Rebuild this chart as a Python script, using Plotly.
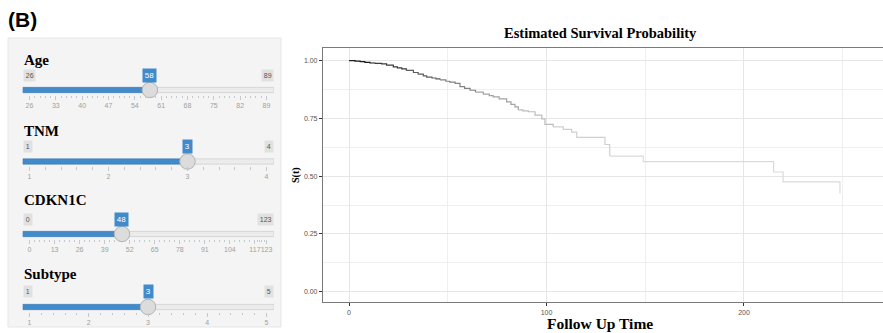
import plotly.graph_objects as go

# ---------------- data ----------------
# Kaplan-Meier style estimated survival curve
follow_time = [0, 3, 5.6, 8, 10.6, 13, 16.5, 19, 22.4, 24.5, 26.7, 29, 32.6, 35, 37.6, 39.3,
               42, 44, 46, 49, 51, 53.7, 56.2, 58.5, 61.3, 64, 68, 71, 73, 76, 79.8, 82, 84,
               85.7, 88, 90.8, 94.2, 97.6, 99.2, 103.4, 108.5, 112.7, 115.3, 129.6, 132, 149,
               215, 219.8, 248.6]
surv_prob = [1.000, 0.998, 0.996, 0.993, 0.990, 0.988, 0.986, 0.981, 0.973, 0.969, 0.965, 0.958,
             0.949, 0.942, 0.934, 0.929, 0.925, 0.921, 0.917, 0.911, 0.907, 0.902, 0.888, 0.880,
             0.872, 0.864, 0.855, 0.849, 0.843, 0.835, 0.822, 0.811, 0.800, 0.787, 0.783, 0.779,
             0.764, 0.748, 0.724, 0.713, 0.703, 0.691, 0.668, 0.637, 0.587, 0.563, 0.518, 0.475,
             0.425]
# colour bands of the curve (dark at start, fading to light grey)
band_breaks = [0, 13, 29, 46, 64, 85.7, 103.4, 132, 248.6]
band_colors = ['#1a1a1a', '#3a3a3a', '#5e5e5e', '#828282', '#a2a2a2', '#bdbdbd', '#cfcfcf', '#dadada']

x_ticks = [0, 100, 200]
y_ticks = [0, 0.25, 0.5, 0.75, 1.0]
y_tick_text = ['0.00', '0.25', '0.50', '0.75', '1.00']

# sliders
slider_names = ['Age', 'TNM', 'CDKN1C', 'Subtype']
slider_min = [26, 1, 0, 1]
slider_max = [89, 4, 123, 5]
slider_value = [58, 3, 48, 3]
age_ticks = [26, 33, 40, 47, 54, 61, 68, 75, 82, 89]
tnm_ticks = [1, 2, 3, 4]
cdkn1c_ticks = [0, 13, 26, 39, 52, 65, 78, 91, 104, 117, 123]
subtype_ticks = [1, 2, 3, 4, 5]
slider_ticks = [age_ticks, tnm_ticks, cdkn1c_ticks, subtype_ticks]

# ---------------- layout helpers ----------------
W, H = 883, 333
def fx(px):
    return px / W
def fy(py):
    return 1 - py / H

fig = go.Figure()

# ---- survival curve in colour bands ----
for b in range(len(band_colors)):
    t0, t1 = band_breaks[b], band_breaks[b + 1]
    i0 = follow_time.index(t0)
    i1 = follow_time.index(t1)
    fig.add_trace(go.Scatter(
        x=follow_time[i0:i1 + 1], y=surv_prob[i0:i1 + 1],
        mode='lines', line=dict(shape='hv', color=band_colors[b], width=1.2),
        xaxis='x', yaxis='y', showlegend=False, hoverinfo='skip'))

SERIF = 'Liberation Serif, Times New Roman, serif'
SANS = 'Liberation Sans, Arial, sans-serif'

layout = dict(
    width=W, height=H, margin=dict(l=0, r=0, t=0, b=0),
    paper_bgcolor='white', plot_bgcolor='rgba(0,0,0,0)',
    showlegend=False,
    xaxis=dict(domain=[fx(323), 1], range=[-13.2, 270.4], anchor='y',
               tickvals=x_ticks, ticktext=[str(v) for v in x_ticks],
               ticks='outside', ticklen=3, tickcolor='#333', tickwidth=0.8,
               tickfont=dict(size=7, color='#555', family=SANS),
               showgrid=True, gridcolor='#e6e6e6', gridwidth=1,
               minor=dict(dtick=50, tick0=0, showgrid=True, gridcolor='#efefef', gridwidth=0.8),
               showline=True, mirror=True, linecolor='#7a7a7a', linewidth=1.2,
               zeroline=False, fixedrange=True),
    yaxis=dict(domain=[fy(302), fy(48)], range=[-0.045, 1.055], anchor='x',
               tickvals=y_ticks, ticktext=y_tick_text,
               ticks='outside', ticklen=3, tickcolor='#333', tickwidth=0.8,
               tickfont=dict(size=7, color='#555', family=SANS),
               showgrid=True, gridcolor='#e6e6e6', gridwidth=1,
               minor=dict(dtick=0.125, tick0=0, showgrid=True, gridcolor='#efefef', gridwidth=0.8),
               showline=True, mirror=False, linecolor='#7a7a7a', linewidth=1.2,
               zeroline=False, fixedrange=True),
    yaxis2=dict(domain=[0, 1], range=[H, 0], visible=False, anchor='free', position=0,
                fixedrange=True),
)

shapes = []
annotations = []

# well background for the slider panel
shapes.append(dict(type='rect', xref='paper', yref='paper', x0=fx(8), x1=fx(281),
                   y0=fy(327), y1=fy(38), fillcolor='#f4f4f4', line=dict(color='#e6e6e6', width=1),
                   layer='below'))

# per-slider vertical layout (pixels from the top)
label_y = [60, 131, 200, 274]
box_y = [75, 146, 219, 291]
track_y = [90, 161.5, 234, 307]
axis_y = [94.5, 166, 238.5, 311.5]

TRACK_L, TRACK_R = 22.7, 274.0
TICK_L, TICK_R = 29.5, 266.5

for k in range(4):
    ax = 'xaxis%d' % (k + 2)
    xr = 'x%d' % (k + 2)
    lo_v, hi_v = slider_min[k], slider_max[k]
    upp = (hi_v - lo_v) / (TICK_R - TICK_L)
    r_lo = lo_v - (TICK_L - TRACK_L) * upp
    r_hi = hi_v + (TRACK_R - TICK_R) * upp
    majors = slider_ticks[k]
    minors = []
    for a, b in zip(majors[:-1], majors[1:]):
        for j in range(1, 5):
            minors.append(a + (b - a) * j / 5)
    layout[ax] = dict(domain=[fx(TRACK_L), fx(TRACK_R)], range=[r_lo, r_hi],
                      anchor='free', position=fy(axis_y[k]), side='bottom',
                      showline=False, showgrid=False, zeroline=False,
                      tickvals=majors, ticktext=[str(v) for v in majors], tickangle=0,
                      ticks='outside', ticklen=4, tickcolor='#c4c9d0', tickwidth=1,
                      tickfont=dict(size=7, color='#a0a0a0', family=SANS),
                      minor=dict(tickvals=minors, ticks='outside', ticklen=2.5,
                                 tickcolor='#c4c9d0', tickwidth=1, showgrid=False),
                      fixedrange=True)
    # track
    shapes.append(dict(type='rect', xref=xr, yref='y2', x0=r_lo, x1=r_hi,
                       y0=track_y[k] - 2.6, y1=track_y[k] + 2.6, layer='below',
                       fillcolor='#ececec', line=dict(color='#cfcfcf', width=0.8)))
    # filled bar
    shapes.append(dict(type='rect', xref=xr, yref='y2', x0=r_lo, x1=slider_value[k],
                       y0=track_y[k] - 2.6, y1=track_y[k] + 2.6, layer='below',
                       fillcolor='#428bca', line=dict(color='#3a7fbd', width=0.8)))
    # knob
    fig.add_trace(go.Scatter(x=[slider_value[k]], y=[track_y[k]], xaxis=xr, yaxis='y2',
                             mode='markers', showlegend=False, hoverinfo='skip',
                             marker=dict(size=15.5, color='#dcdcdc',
                                         line=dict(color='#b3b3b3', width=1))))
    # label
    annotations.append(dict(xref='paper', yref='y2', x=fx(22), y=label_y[k],
                            xanchor='left', yanchor='middle', showarrow=False,
                            text=slider_names[k],
                            font=dict(family=SERIF, size=15, color='black', weight='bold')))
    # min / max boxes
    annotations.append(dict(xref=xr, yref='y2', x=r_lo, y=box_y[k], xanchor='left',
                            yanchor='middle', showarrow=False, text=str(lo_v),
                            font=dict(family=SANS, size=7, color='#555'),
                            bgcolor='#e1e1e1', borderpad=1.8))
    annotations.append(dict(xref=xr, yref='y2', x=r_hi, y=box_y[k], xanchor='right',
                            yanchor='middle', showarrow=False, text=str(hi_v),
                            font=dict(family=SANS, size=7, color='#555'),
                            bgcolor='#e1e1e1', borderpad=1.8))
    # value box
    annotations.append(dict(xref=xr, yref='y2', x=slider_value[k], y=box_y[k], xanchor='center',
                            yanchor='middle', showarrow=False, text=str(slider_value[k]),
                            font=dict(family=SANS, size=8, color='white'),
                            bgcolor='#428bca', borderpad=1.8))

# panel tag
annotations.append(dict(xref='paper', yref='paper', x=fx(6), y=fy(20), xanchor='left',
                        yanchor='middle', showarrow=False, text='(B)',
                        font=dict(family=SANS, size=21, color='black', weight='bold')))
# plot titles
annotations.append(dict(xref='paper', yref='paper', x=fx(600), y=fy(33), xanchor='center',
                        yanchor='middle', showarrow=False, text='Estimated Survival Probability',
                        font=dict(family=SERIF, size=14.5, color='black', weight='bold')))
annotations.append(dict(xref='paper', yref='paper', x=fx(600), y=fy(323), xanchor='center',
                        yanchor='middle', showarrow=False, text='Follow Up Time',
                        font=dict(family=SERIF, size=15.5, color='black', weight='bold')))
annotations.append(dict(xref='paper', yref='paper', x=fx(296), y=fy(175), xanchor='center',
                        yanchor='middle', showarrow=False, text='S(t)', textangle=-90,
                        font=dict(family=SERIF, size=10, color='black', weight='bold')))

layout['shapes'] = shapes
layout['annotations'] = annotations
fig.update_layout(**layout)

fig.write_html('out.html', config={'displayModeBar': False},
               post_script="document.body.style.margin='0';document.body.style.padding='0';")
